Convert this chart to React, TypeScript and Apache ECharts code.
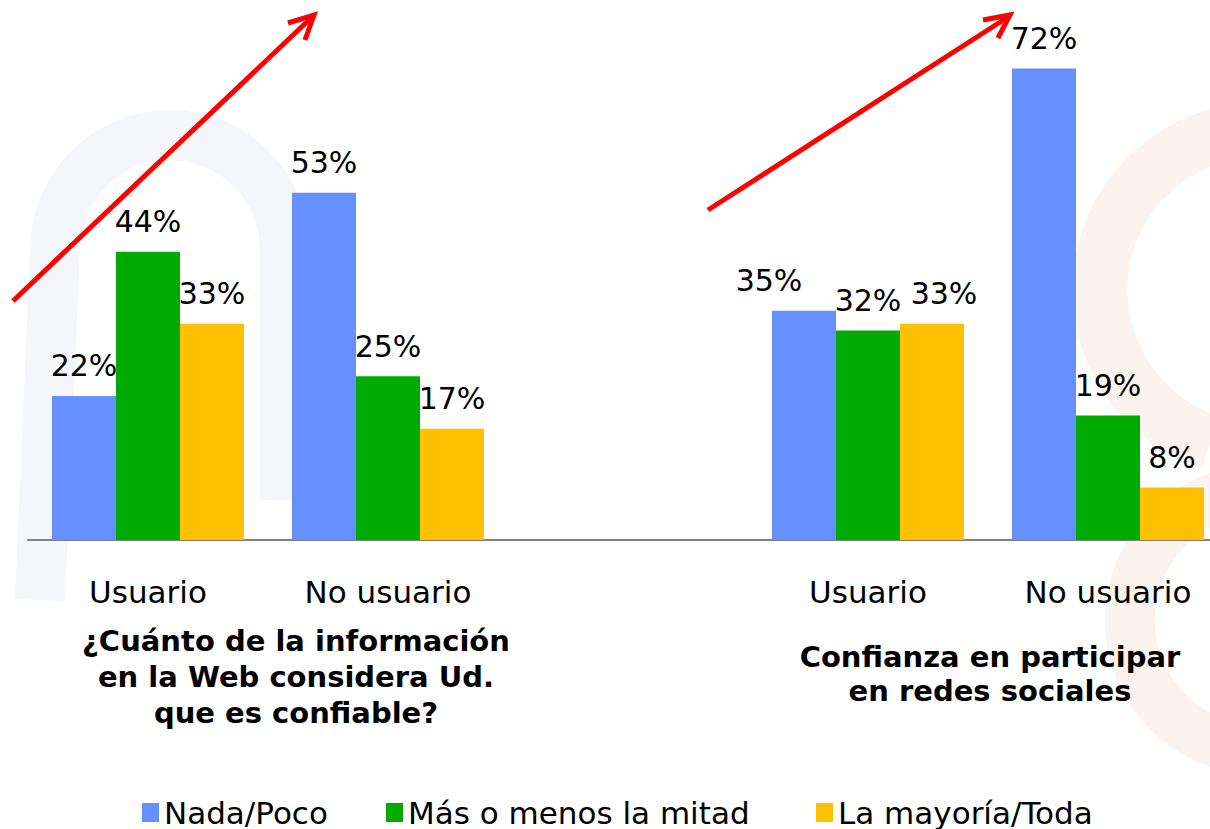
import React, { useEffect, useRef } from "react";
import * as echarts from "echarts";

const categories = ["Usuario", "No usuario", "", "Usuario", "No usuario"];
const seriesNames = ["Nada/Poco", "Más o menos la mitad", "La mayoría/Toda"];
const nadaPoco = [22, 53, null, 35, 72];
const masMenos = [44, 25, null, 32, 19];
const mayoria = [33, 17, null, 33, 8];
const seriesColors = ["#6690FF", "#00AA00", "#FFC000"];
// horizontal nudges of individual value labels (series index -> category index -> px)
const labelNudges: Record<string, number> = { "0-3": -35, "2-3": 12 };
const legendLefts = [137, 381, 811];
const titleLeft = "¿Cuánto de la información\nen la Web considera Ud.\nque es confiable?";
const titleRight = "Confianza en participar\nen redes sociales";

const FONT = "'DejaVu Sans', Verdana, sans-serif";

export default function App() {
  const ref = useRef<HTMLDivElement>(null);
  useEffect(() => {
    if (!ref.current) return;
    const chart = echarts.init(ref.current, null, { renderer: "svg" });
    const values = [nadaPoco, masMenos, mayoria];
    const option: any = {
      animation: false,
      backgroundColor: "#ffffff",
      grid: { left: 28, width: 1200, top: 16, height: 524, containLabel: false, outerBoundsMode: "none" },
      xAxis: {
        type: "category",
        data: categories,
        axisLine: { show: true, lineStyle: { color: "#808080", width: 2 } },
        axisTick: { show: false },
        axisLabel: { color: "#000", fontFamily: FONT, fontSize: 31, margin: 36, interval: 0 },
        splitLine: { show: false },
      },
      yAxis: { type: "value", min: 0, max: 80, show: false, splitLine: { show: false } },
      legend: seriesNames.map((name, i) => ({
        left: legendLefts[i],
        top: 792,
        itemWidth: 17,
        itemHeight: 19,
        icon: "rect",
        textStyle: { color: "#000", fontFamily: FONT, fontSize: 31 },
        data: [name],
      })),
      series: seriesNames.map((name, i) => ({
        name,
        type: "bar",
        data: values[i].map((v, j) => {
          const nudge = labelNudges[`${i}-${j}`];
          return nudge ? { value: v, label: { offset: [nudge, 0] } } : v;
        }),
        barWidth: 64,
        barGap: "0%",
        itemStyle: { color: seriesColors[i] },
        label: {
          show: true,
          position: "top",
          distance: 15,
          formatter: "{c}%",
          color: "#000",
          fontFamily: FONT,
          fontSize: 30,
        },
      })),
      graphic: [
        {
          type: "group",
          z: -10,
          silent: true,
          children: [
            { type: "arc", shape: { cx: 170, cy: 250, r: 115, startAngle: Math.PI, endAngle: 2 * Math.PI }, style: { stroke: "#f5f6f9", lineWidth: 50, fill: "none" } },
            { type: "line", shape: { x1: 55, y1: 250, x2: 40, y2: 600 }, style: { stroke: "#f5f6f9", lineWidth: 50 } },
            { type: "line", shape: { x1: 285, y1: 250, x2: 285, y2: 500 }, style: { stroke: "#f5f6f9", lineWidth: 50 } },
            { type: "arc", shape: { cx: 1260, cy: 290, r: 160, startAngle: Math.PI * 0.6, endAngle: Math.PI * 1.5 }, style: { stroke: "#fdf3ee", lineWidth: 55, fill: "none" } },
            { type: "arc", shape: { cx: 1260, cy: 620, r: 130, startAngle: Math.PI * 0.6, endAngle: Math.PI * 1.4 }, style: { stroke: "#fdf3ee", lineWidth: 50, fill: "none" } },
          ],
        },
        {
          type: "text",
          x: 296,
          y: 623,
          z: 50,
          style: {
            text: titleLeft,
            fill: "#000",
            font: `bold 29px ${FONT}`,
            align: "center",
            verticalAlign: "top",
            lineHeight: 36,
          },
        },
        {
          type: "text",
          x: 990,
          y: 640,
          z: 50,
          style: {
            text: titleRight,
            fill: "#000",
            font: `bold 29px ${FONT}`,
            align: "center",
            verticalAlign: "top",
            lineHeight: 34,
          },
        },
        { type: "line", z: 100, shape: { x1: 13, y1: 301, x2: 312, y2: 17 }, style: { stroke: "#ff0000", lineWidth: 5 } },
        { type: "polyline", z: 100, shape: { points: [[288, 23], [314, 15], [305, 40]] }, style: { stroke: "#ff0000", lineWidth: 5, fill: "none", lineJoin: "miter" } },
        { type: "line", z: 100, shape: { x1: 708, y1: 210, x2: 1008, y2: 17 }, style: { stroke: "#ff0000", lineWidth: 5 } },
        { type: "polyline", z: 100, shape: { points: [[983, 20], [1010, 15], [998, 38]] }, style: { stroke: "#ff0000", lineWidth: 5, fill: "none", lineJoin: "miter" } },
      ],
    };
    chart.setOption(option);
    return () => chart.dispose();
  }, []);
  return (
    <div
      ref={ref}
      style={{ position: "fixed", left: 0, top: 0, width: 1210, height: 829, background: "#fff" }}
    />
  );
}
